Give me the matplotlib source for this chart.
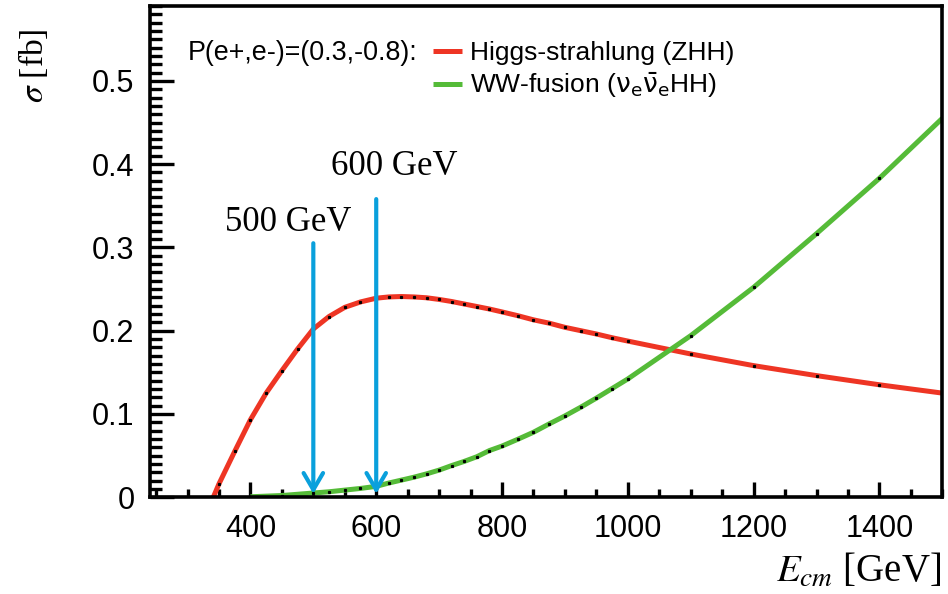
import matplotlib
matplotlib.use('Agg')
import matplotlib.pyplot as plt
from matplotlib.ticker import MultipleLocator, FuncFormatter
from matplotlib.font_manager import FontProperties

# ZHH (Higgs-strahlung) cross section vs. centre-of-mass energy
zhh_energy = [341, 350, 375, 400, 425, 450, 475, 500, 525, 550, 575, 600, 620, 640, 660,
              680, 700, 720, 740, 760, 780, 800, 825, 850, 875, 900, 925, 950, 975, 1000,
              1100, 1200, 1300, 1400, 1500]
zhh_xsec = [0.0, 0.016, 0.055, 0.093, 0.125, 0.152, 0.178, 0.202, 0.217, 0.228, 0.2345,
            0.239, 0.2405, 0.241, 0.2405, 0.2395, 0.2375, 0.235, 0.232, 0.229, 0.226,
            0.2225, 0.218, 0.213, 0.209, 0.204, 0.200, 0.196, 0.1915, 0.1875,
            0.172, 0.158, 0.146, 0.135, 0.125]

# WW-fusion (nu_e nubar_e HH)
vvhh_energy = [400, 450, 500, 525, 550, 575, 600, 620, 640, 660, 680, 700, 720, 740, 760,
               780, 800, 825, 850, 875, 900, 925, 950, 975, 1000, 1100, 1200, 1300, 1400, 1500]
vvhh_xsec = [0.0005, 0.002, 0.005, 0.0065, 0.0085, 0.0105, 0.013, 0.017, 0.0205, 0.024,
             0.028, 0.0325, 0.038, 0.043, 0.0486, 0.056, 0.0614, 0.0695, 0.078, 0.088,
             0.0976, 0.108, 0.119, 0.1305, 0.142, 0.194, 0.252, 0.3165, 0.383, 0.455]

marked_energies = [500, 600]
marked_labels = ['500 GeV', '600 GeV']
arrow_tops = [0.305, 0.358]
label_pos = [(460, 0.320), (628, 0.387)]

red = '#ee3524'
green = '#55bb38'
blue = '#0aa0dc'

fig = plt.figure(figsize=(9.48, 5.94), dpi=100)
ax = fig.add_axes([0.158, 0.163, 0.836, 0.827])

ax.plot(zhh_energy, zhh_xsec, color=red, lw=3.6, solid_capstyle='butt',
        label='Higgs-strahlung (ZHH)')
ax.plot(vvhh_energy, vvhh_xsec, color=green, lw=3.6, solid_capstyle='butt',
        label=r'WW-fusion ($\mathrm{\nu_{e}\bar{\nu}_{e}}$HH)')
ax.plot(zhh_energy[1:], zhh_xsec[1:], ls='none', marker='s', ms=1.3, color='black')
ax.plot(vvhh_energy, vvhh_xsec, ls='none', marker='s', ms=1.3, color='black')

for e, top, txt, (tx, ty) in zip(marked_energies, arrow_tops, marked_labels, label_pos):
    ax.annotate('', xy=(e, 0.004), xytext=(e, top),
                arrowprops=dict(arrowstyle='->,head_length=1.2,head_width=0.7',
                                color=blue, lw=3, shrinkA=0, shrinkB=0,
                                mutation_scale=10))
    ax.text(tx, ty, txt, ha='center', va='baseline', fontsize=25,
            family='Liberation Serif')

ax.set_xlim(240, 1500)
ax.set_ylim(0, 0.59)
ax.xaxis.set_major_locator(MultipleLocator(200))
ax.xaxis.set_minor_locator(MultipleLocator(50))
ax.yaxis.set_major_locator(MultipleLocator(0.1))
ax.yaxis.set_minor_locator(MultipleLocator(0.01))
ax.yaxis.set_major_formatter(FuncFormatter(lambda v, p: '0' if abs(v) < 1e-9 else '%.1f' % v))

for s in ax.spines.values():
    s.set_linewidth(2.6)
ax.tick_params(which='both', direction='in', top=False, right=False, width=2.4,
               labelsize=22)
ax.tick_params(axis='x', which='major', length=11, pad=12)
ax.tick_params(axis='x', which='minor', length=5.5)
ax.tick_params(axis='y', which='major', length=17, pad=11)
ax.tick_params(axis='y', which='minor', length=8.5)
for lab in ax.get_xticklabels() + ax.get_yticklabels():
    lab.set_family('Liberation Sans')

leg_font = FontProperties(family='Liberation Sans', size=19, math_fontfamily='dejavusans')
ax.legend(loc='upper left', bbox_to_anchor=(0.357, 0.929), frameon=False, prop=leg_font,
          handlelength=1.12, handletextpad=0.28, labelspacing=0.24, borderaxespad=0,
          borderpad=0)
ax.text(0.048, 0.905, 'P(e+,e-)=(0.3,-0.8):', transform=ax.transAxes, fontsize=19.4,
        family='Liberation Sans', va='center')

fig.text(0.035, 0.89, r'$\sigma$ [fb]', rotation=90, ha='center', va='center',
         fontsize=24, family='Liberation Serif', math_fontfamily='stix')
fig.text(0.993, 0.038, r'$E_{cm}$ [GeV]', ha='right', va='center',
         fontsize=28, family='Liberation Serif', math_fontfamily='stix')

plt.savefig('out.png', dpi=100)
